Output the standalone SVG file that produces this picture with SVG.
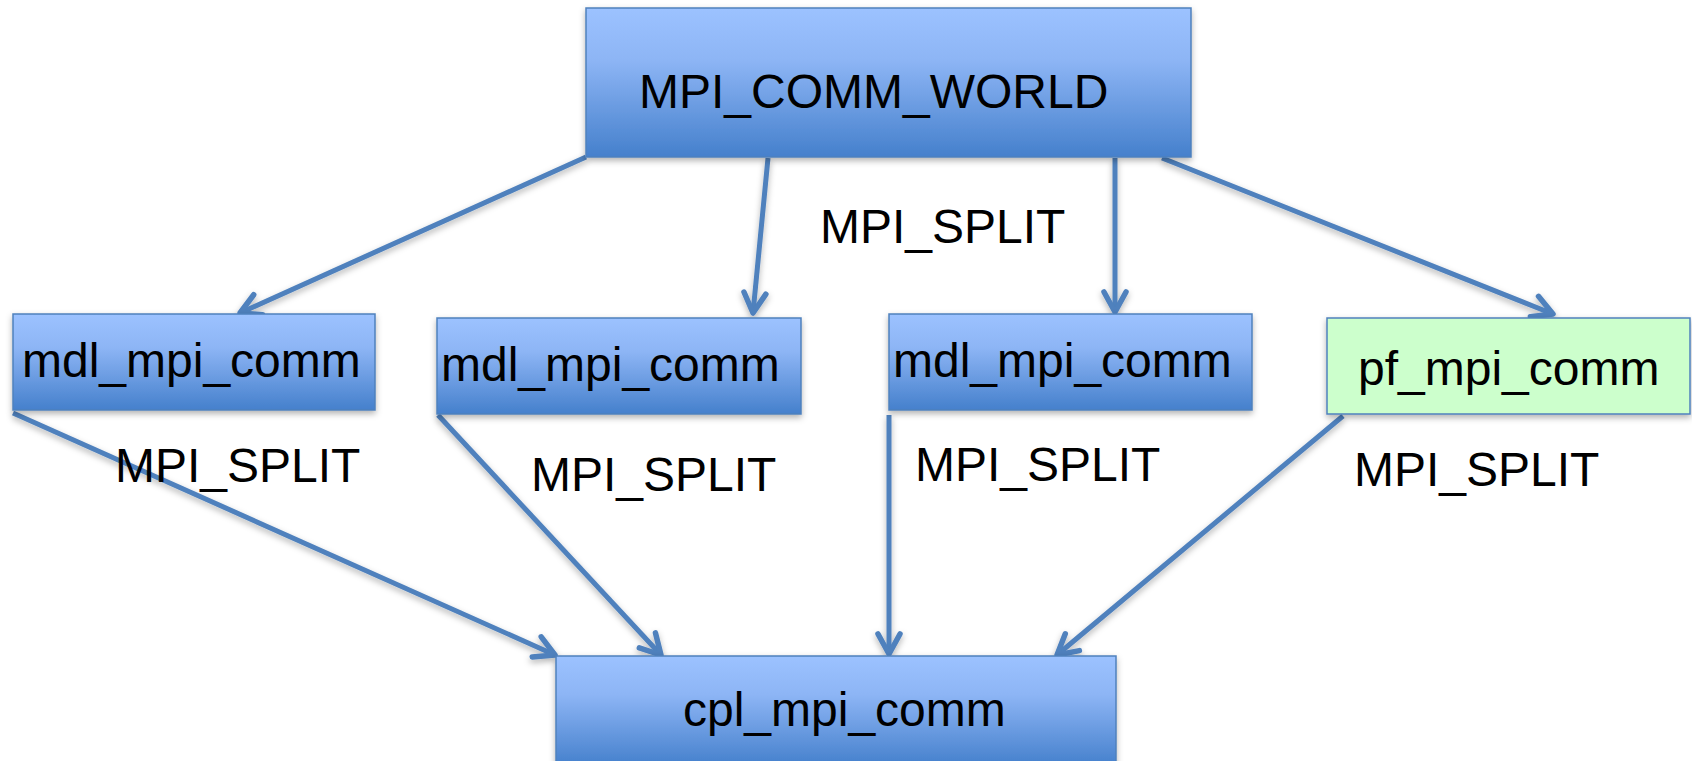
<svg xmlns="http://www.w3.org/2000/svg" width="1692" height="761" viewBox="0 0 1692 761">
<style>
.t{font-family:"Liberation Sans",Arial,sans-serif;font-size:48px;fill:#000}
.box{fill:url(#blue);stroke:#4f81bd;stroke-width:1.5}
.green{fill:#ccffcc;stroke:#4f81bd;stroke-width:1.5}
.c{fill:none;stroke:#4f81bd;stroke-width:5;marker-end:url(#ah)}
</style>
<defs>
<linearGradient id="blue" x1="0" y1="0" x2="0" y2="1">
<stop offset="0" stop-color="#9cc2ff"/>
<stop offset="0.35" stop-color="#8db5f5"/>
<stop offset="1" stop-color="#4580cc"/>
</linearGradient>
<filter id="sh" x="-5%" y="-10%" width="110%" height="130%">
<feDropShadow dx="0" dy="3" stdDeviation="3" flood-color="#000" flood-opacity="0.3"/>
</filter>
<marker id="ah" markerUnits="userSpaceOnUse" viewBox="-26 -16 30 32" markerWidth="30" markerHeight="32" refX="0" refY="0" orient="auto">
<path d="M-20,-11 L0,0 L-20,11" fill="none" stroke="#4f81bd" stroke-width="5.5" stroke-linecap="round" stroke-linejoin="round"/>
</marker>
</defs>
<g id="connectors" filter="url(#sh)">
<line class="c" x1="586" y1="157" x2="240" y2="313"/>
<line class="c" x1="768" y1="158" x2="753" y2="313"/>
<line class="c" x1="1115" y1="158" x2="1115" y2="312"/>
<line class="c" x1="1162" y1="158" x2="1553" y2="314"/>
<line class="c" x1="13" y1="413" x2="555" y2="655"/>
<line class="c" x1="438" y1="415" x2="661" y2="655"/>
<line class="c" x1="889" y1="415" x2="889" y2="654"/>
<line class="c" x1="1343" y1="416" x2="1057" y2="655"/>
</g>
<g id="world">
<rect class="box" filter="url(#sh)" x="586" y="8" width="605" height="149"/>
<text class="t" x="639" y="108">MPI_COMM_WORLD</text>
</g>
<g id="mdl1">
<rect class="box" filter="url(#sh)" x="13" y="314" width="362" height="96"/>
<text class="t" x="22" y="377">mdl_mpi_comm</text>
</g>
<g id="mdl2">
<rect class="box" filter="url(#sh)" x="437" y="318" width="364" height="96"/>
<text class="t" x="441" y="381">mdl_mpi_comm</text>
</g>
<g id="mdl3">
<rect class="box" filter="url(#sh)" x="889" y="314" width="363" height="96"/>
<text class="t" x="893" y="377">mdl_mpi_comm</text>
</g>
<g id="pf">
<rect class="green" filter="url(#sh)" x="1327" y="318" width="363" height="96"/>
<text class="t" x="1358" y="385">pf_mpi_comm</text>
</g>
<g id="cpl">
<rect class="box" filter="url(#sh)" x="556" y="656" width="560" height="110"/>
<text class="t" x="683" y="726">cpl_mpi_comm</text>
</g>
<g id="labels">
<text class="t" x="820" y="243">MPI_SPLIT</text>
<text class="t" x="115" y="482">MPI_SPLIT</text>
<text class="t" x="531" y="491">MPI_SPLIT</text>
<text class="t" x="915" y="481">MPI_SPLIT</text>
<text class="t" x="1354" y="486">MPI_SPLIT</text>
</g>
</svg>
